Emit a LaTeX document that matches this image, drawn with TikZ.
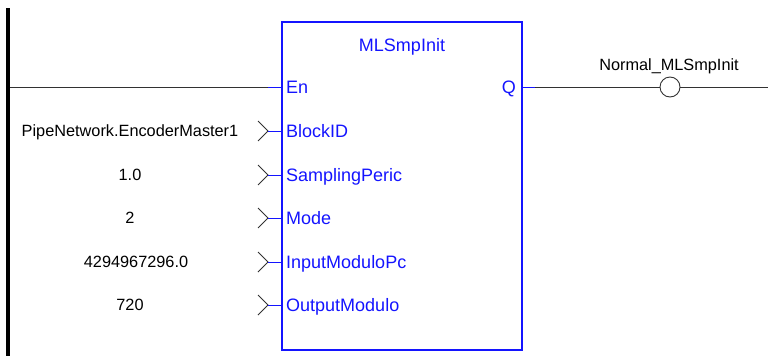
\documentclass[tikz,border=0pt]{standalone}
\usepackage{fontspec}
\setmainfont{Liberation Sans}
\definecolor{fbblue}{RGB}{20,20,255}
\definecolor{wiregray}{RGB}{50,50,50}
\begin{document}
\begin{tikzpicture}[x=1pt,y=-1pt,
  wire/.style={draw=wiregray,line width=0.9pt},
  bwire/.style={draw=fbblue,line width=1pt},
  chev/.style={draw=wiregray,line width=0.9pt},
  val/.style={inner sep=0pt,anchor=base,text=black,font=\fontsize{16.3}{19}\selectfont},
  pin/.style={inner sep=0pt,anchor=base west,text=fbblue,font=\fontsize{18}{21}\selectfont},
  pinr/.style={inner sep=0pt,anchor=base east,text=fbblue,font=\fontsize{18}{21}\selectfont},
  fbbox/.style={draw=fbblue,line width=1.3pt,minimum width=240pt,minimum height=328pt,inner sep=0pt},
  coilst/.style={circle,draw=wiregray,line width=0.9pt,fill=white,minimum size=20pt,inner sep=0pt}]
\useasboundingbox (0,0) rectangle (768,356);
% left power rail
\fill[black] (6,8) rectangle (10,356);
\coordinate (rail) at (10,87);
% function block
\node[fbbox] (fb) at (402,186) {};
\node[inner sep=0pt,anchor=base,text=fbblue,font=\fontsize{18}{21}\selectfont] (title) at (402,51.4) {MLSmpInit};
% pins
\node[pin] (pEn) at (286,93.4) {En};
\node[pinr] (pQ) at (516,93.4) {Q};
\node[pin] (pB) at (286,137.4) {BlockID};
\node[pin] (pS) at (286,181.4) {SamplingPeric};
\node[pin] (pM) at (286,224.4) {Mode};
\node[pin] (pI) at (286,268.4) {InputModuloPc};
\node[pin] (pO) at (286,311.4) {OutputModulo};
% En wire
\coordinate (enT) at (268,87);
\coordinate (enB) at (282,87);
\draw[wire] (rail) -- (enT);
\draw[bwire] (enT) -- (enB);
% Q wire and coil
\coordinate (qB) at (522,87);
\coordinate (qT) at (535,87);
\coordinate (rend) at (768,87);
\draw[bwire] (qB) -- (qT);
\node[coilst] (coil) at (670,87) {};
\draw[wire] (qT) -- (coil.west);
\draw[wire] (coil.east) -- (rend);
\node[val,anchor=base] (coillbl) at (669,70.7) {Normal\_MLSmpInit};
% input values
\foreach \nm/\yy/\txt/\xx in {vB/131/PipeNetwork.EncoderMaster1/130,vS/175/1.0/130,vM/218/2/130,vI/262/4294967296.0/136,vO/305/720/130}{
  \node[val] (\nm) at (\xx,\yy+5.8) {\txt};
  \coordinate (\nm t) at (268,\yy);
  \coordinate (\nm b) at (282,\yy);
  \draw[chev] (258,\yy-10) -- (\nm t) -- (258,\yy+10);
  \draw[bwire] (\nm t) -- (\nm b);
}
\end{tikzpicture}
\end{document}
